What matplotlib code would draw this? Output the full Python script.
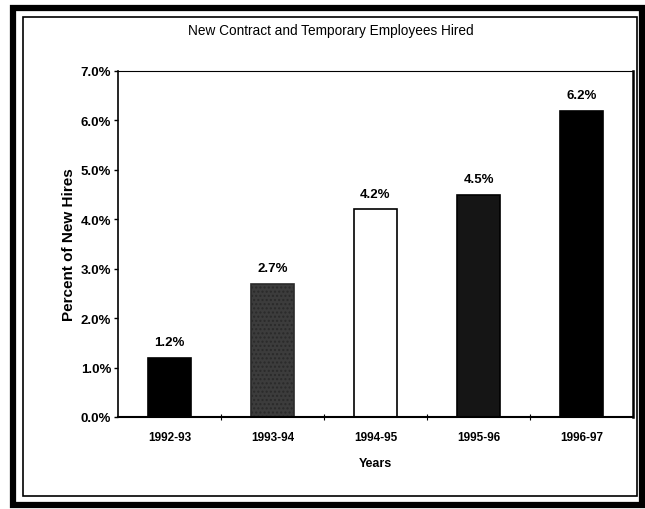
import numpy as np
import matplotlib
matplotlib.use("Agg")
import matplotlib.pyplot as plt
from matplotlib.patches import Rectangle

# データ
years = ["1992-93", "1993-94", "1994-95", "1995-96", "1996-97"]
percent = [1.2, 2.7, 4.2, 4.5, 6.2]
value_labels = ["1.2%", "2.7%", "4.2%", "4.5%", "6.2%"]
yticks = [0, 1, 2, 3, 4, 5, 6, 7]

plt.rcParams['font.family'] = ['Liberation Sans', 'DejaVu Sans']

W, H = 645, 510
fig = plt.figure(figsize=(W / 100, H / 100), dpi=100)


def fx(px):
    return px / W


def fy(py):
    return 1 - py / H


# 外枠（太線）と内枠（細線）
fig.patches.append(Rectangle((fx(13), fy(506)), fx(629), 497 / H,
                             transform=fig.transFigure, fill=False,
                             edgecolor='k', linewidth=4.5))
fig.patches.append(Rectangle((fx(23), fy(497)), fx(614), 479 / H,
                             transform=fig.transFigure, fill=False,
                             edgecolor='k', linewidth=1.2))

# 軸
ax = fig.add_axes([fx(118), fy(418), fx(633 - 118), (418 - 72) / H])
x = np.arange(len(years))
faces = ['k', '#3c3c3c', 'w', '#151515', 'k']
bars = ax.bar(x, percent, width=0.41, color=faces, edgecolor='k', linewidth=1.2)
bars[1].set_hatch('....')
bars[1].set_edgecolor('#2a2a2a')

# 値ラベル
for xi, v, lab in zip(x, percent, value_labels):
    ax.text(xi, v + 0.2, lab, ha='center', va='bottom', fontsize=9.5,
            fontweight='bold')

ax.set_xlim(-0.5, len(years) - 0.5)
ax.set_ylim(0, 7)
ax.set_yticks(yticks)
ax.set_yticklabels(["%.1f%%" % t for t in yticks], fontsize=9.5,
                   fontweight='bold')
ax.set_xticks(x)
ax.set_xticklabels(years, fontsize=8.5, fontweight='bold')
ax.tick_params(axis='x', length=0, pad=10)
ax.tick_params(axis='y', length=3, width=1, pad=2)
# カテゴリ境界の小目盛り
ax.set_xticks(np.arange(0.5, len(years) - 0.5, 1), minor=True)
ax.tick_params(axis='x', which='minor', length=4, direction='inout', width=0.8)

ax.spines['top'].set_linestyle((0, (4, 1)))
ax.spines['top'].set_linewidth(0.8)
ax.spines['left'].set_linewidth(1.2)
ax.spines['bottom'].set_linewidth(1.5)
ax.spines['right'].set_linewidth(1.8)

ax.set_ylabel("Percent of New Hires", fontsize=11, fontweight='bold',
              labelpad=3)
ax.set_xlabel("Years", fontsize=9, fontweight='bold', labelpad=10)

fig.text(fx(331), fy(31), "New Contract and Temporary Employees Hired",
         ha='center', va='center', fontsize=9.8)

plt.savefig("out.png", dpi=100)
plt.close()
